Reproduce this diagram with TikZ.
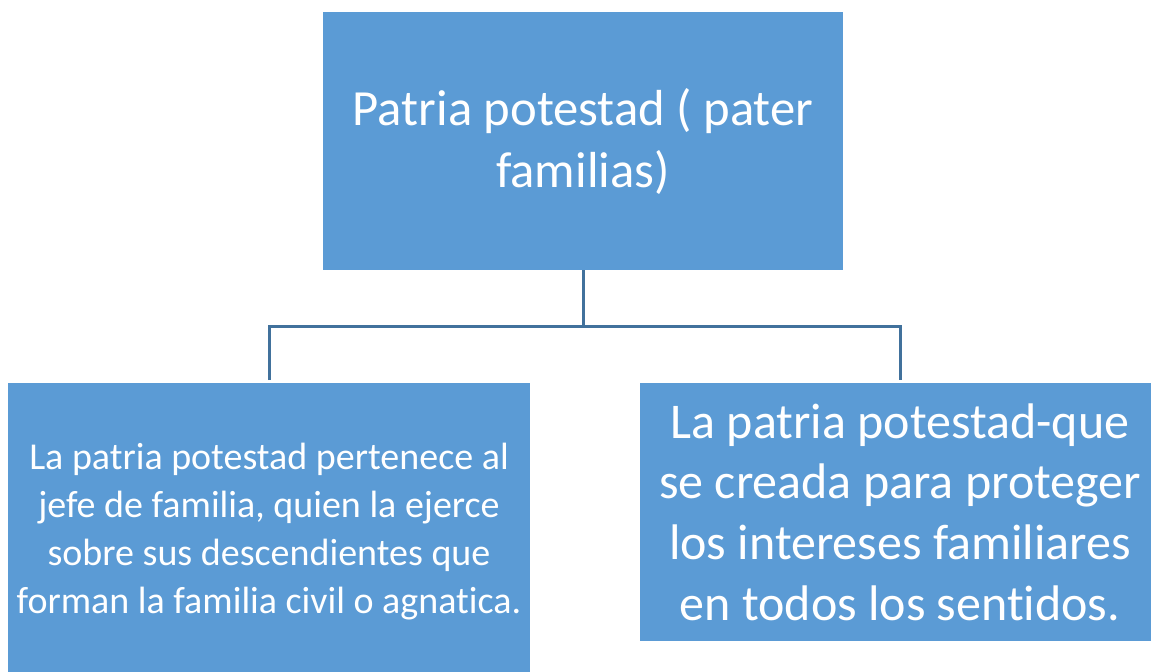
\documentclass[tikz,border=0pt]{standalone}
\usepackage{fontspec}
\setmainfont{Carlito}[RawFeature=-liga]
\definecolor{boxblue}{RGB}{91,155,213}
\definecolor{lineblue}{RGB}{65,113,156}
\begin{document}
\begin{tikzpicture}[x=0.75pt,y=-0.75pt,
        caja/.style={fill=boxblue,text=white,align=center,inner sep=0pt},
        conn/.style={draw=lineblue,line width=2.25pt}]
        \useasboundingbox (0,0) rectangle (1151,671);
        \clip (0,0) rectangle (1151,671);
        % boxes
        \node[caja,minimum width=390pt,minimum height=193.5pt,font=\fontsize{38}{46.5}\selectfont] (padre) at (583,141) {Patria potestad ( pater\\familias)};
        \node[caja,minimum width=391.5pt,minimum height=222.75pt,font=\fontsize{28.5}{35.8}\selectfont] (izq) at (269,531.5) {La patria potestad pertenece al\\jefe de familia, quien la ejerce\\sobre sus descendientes que\\forman la familia civil o agnatica.};
        \node[caja,minimum width=390pt,minimum height=193.5pt,font=\fontsize{37.5}{45.5}\selectfont] (der) at (900,512) {La patria potestad-que\\se creada para proteger\\los intereses familiares\\en todos los sentidos.};
        % connectors
        \coordinate (bus) at (583,326);
        \coordinate (izqtop) at (269,380);
        \coordinate (dertop) at (900,380);
        \draw[conn] (padre.south) -- (bus);
        \draw[conn] (izqtop) |- (bus) -| (dertop);
\end{tikzpicture}
\end{document}
